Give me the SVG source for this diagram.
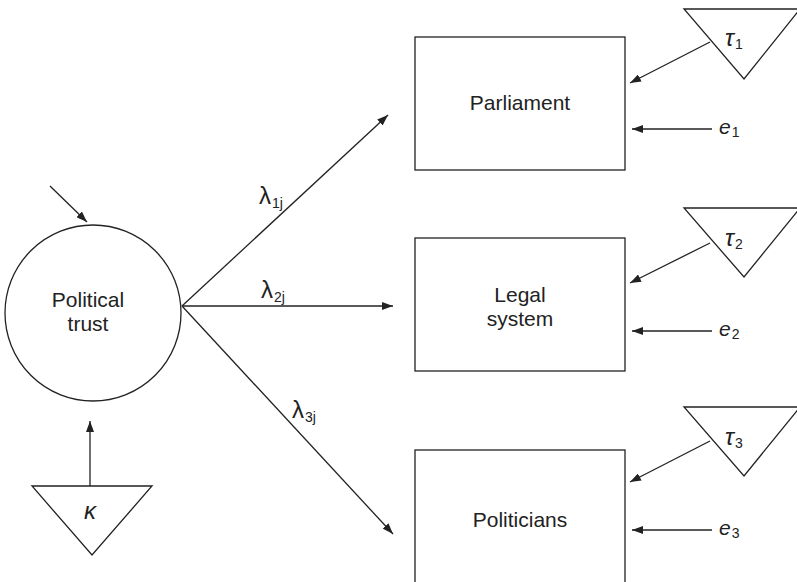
<svg xmlns="http://www.w3.org/2000/svg" width="797" height="582" viewBox="0 0 797 582">
<style>
.s{fill:none;stroke:#222;stroke-width:1.3}
.c{stroke:#222;stroke-width:1.3;fill:none}
.t{font-family:"Liberation Sans",Arial,sans-serif;font-size:21px;fill:#222}
.m{font-family:"Liberation Sans",Arial,sans-serif;font-size:21px;fill:#222;font-style:italic}
.g{font-size:24px}
.sub{font-size:14px;font-style:normal}
.l{font-family:"Liberation Sans",Arial,sans-serif;font-size:24px;fill:#222}
</style>
<defs>
<marker id="ah" markerUnits="userSpaceOnUse" markerWidth="12" markerHeight="8" refX="11" refY="4" orient="auto">
<path d="M0,0 L11,4 L0,8 Z" fill="#222"/>
</marker>
</defs>
<rect width="797" height="582" fill="#fff"/>
<g id="political-trust">
<circle class="s" cx="93" cy="313" r="88"/>
<text class="t" x="88" y="307" text-anchor="middle">Political</text>
<text class="t" x="88" y="331" text-anchor="middle">trust</text>
</g>
<g id="kappa">
<polygon class="s" points="32,486 152,486 92,555"/>
<text class="m g" x="90" y="519" text-anchor="middle">κ</text>
</g>
<g id="parliament">
<rect class="s" x="415" y="37" width="210" height="133"/>
<text class="t" x="520" y="110" text-anchor="middle">Parliament</text>
</g>
<g id="legal-system">
<rect class="s" x="415" y="238" width="210" height="133"/>
<text class="t" x="520" y="302" text-anchor="middle">Legal</text>
<text class="t" x="520" y="326" text-anchor="middle">system</text>
</g>
<g id="politicians">
<rect class="s" x="415" y="450" width="210" height="150"/>
<text class="t" x="520" y="527" text-anchor="middle">Politicians</text>
</g>
<g id="tau1">
<polygon class="s" points="684,9 800,9 744,79"/>
<text class="m g" x="725" y="46">τ<tspan class="sub" dx="1" dy="3">1</tspan></text>
</g>
<g id="tau2">
<polygon class="s" points="684,208 800,208 744,277"/>
<text class="m g" x="725" y="246">τ<tspan class="sub" dx="1" dy="3">2</tspan></text>
</g>
<g id="tau3">
<polygon class="s" points="684,407 800,407 744,476"/>
<text class="m g" x="725" y="445">τ<tspan class="sub" dx="1" dy="3">3</tspan></text>
</g>
<g id="e1"><text class="m" x="719" y="134">e<tspan class="sub" dx="1" dy="3">1</tspan></text></g>
<g id="e2"><text class="m" x="719" y="336">e<tspan class="sub" dx="1" dy="3">2</tspan></text></g>
<g id="e3"><text class="m" x="719" y="535">e<tspan class="sub" dx="1" dy="3">3</tspan></text></g>
<g id="connectors">
<line class="c" x1="50" y1="186" x2="87" y2="222" marker-end="url(#ah)"/>
<line class="c" x1="90" y1="486" x2="90" y2="421" marker-end="url(#ah)"/>
<line class="c" x1="182" y1="306" x2="388" y2="115" marker-end="url(#ah)"/>
<line class="c" x1="182" y1="306" x2="393" y2="306" marker-end="url(#ah)"/>
<line class="c" x1="182" y1="306" x2="393" y2="534" marker-end="url(#ah)"/>
<line class="c" x1="710" y1="42" x2="630" y2="83" marker-end="url(#ah)"/>
<line class="c" x1="710" y1="243" x2="630" y2="283" marker-end="url(#ah)"/>
<line class="c" x1="710" y1="441" x2="630" y2="482" marker-end="url(#ah)"/>
<line class="c" x1="712" y1="129" x2="632" y2="129" marker-end="url(#ah)"/>
<line class="c" x1="712" y1="331" x2="632" y2="331" marker-end="url(#ah)"/>
<line class="c" x1="712" y1="530" x2="632" y2="530" marker-end="url(#ah)"/>
<text class="l" x="259" y="204">λ<tspan class="sub" dx="1" dy="4">1j</tspan></text>
<text class="l" x="261" y="298">λ<tspan class="sub" dx="1" dy="4">2j</tspan></text>
<text class="l" x="292" y="418">λ<tspan class="sub" dx="1" dy="4">3j</tspan></text>
</g>
</svg>
